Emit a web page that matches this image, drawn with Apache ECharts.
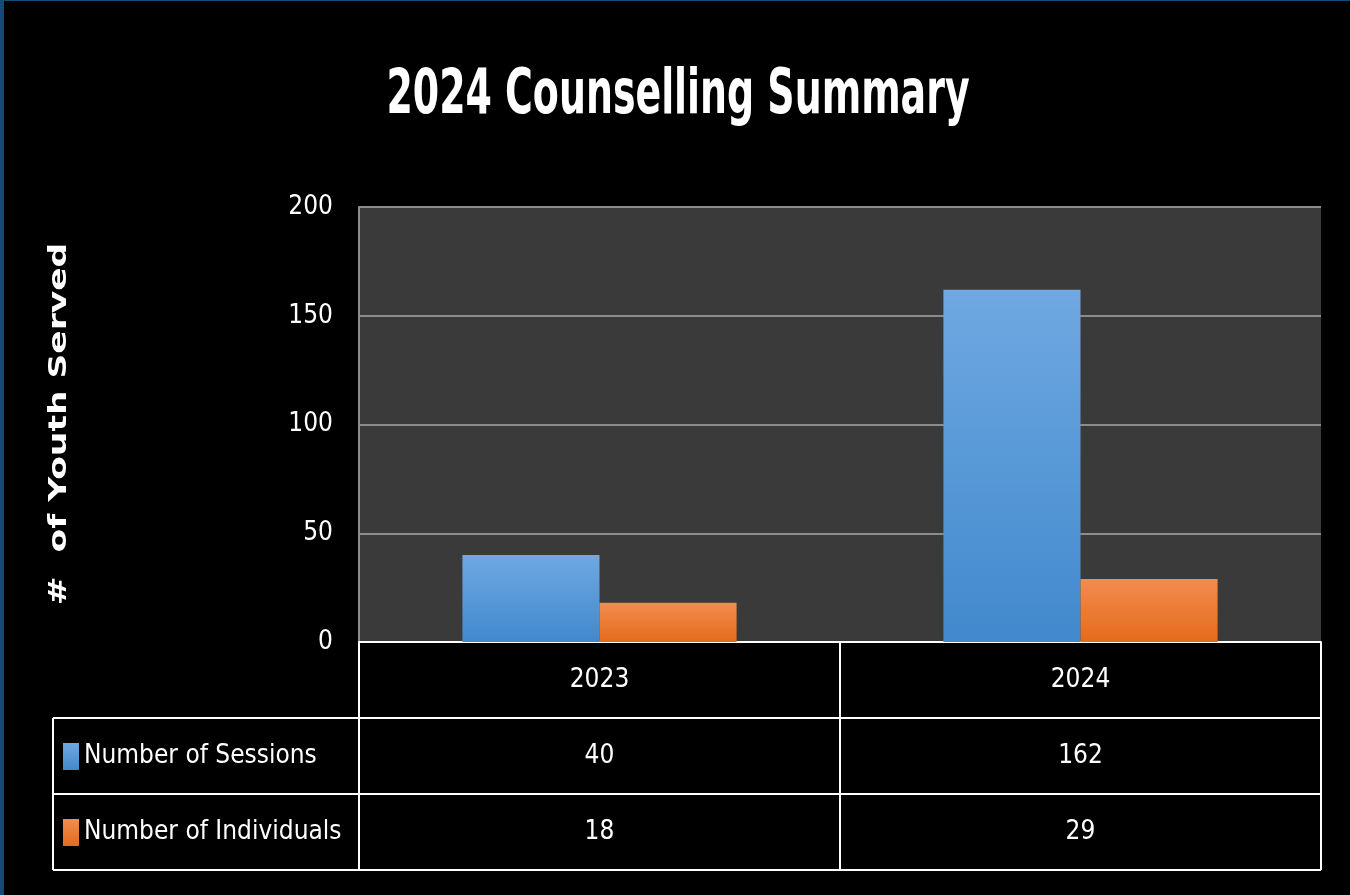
<!DOCTYPE html>
<html>
<head>
<meta charset="utf-8">
<script src="https://cdn.jsdelivr.net/npm/echarts@6/dist/echarts.min.js"></script>
<style>
  html, body { margin: 0; padding: 0; background: #000; }
  #wrap { position: relative; width: 1350px; height: 895px; }
  #main { width: 1350px; height: 895px; }
  #frame { position: absolute; left: 0; top: 0; width: 1346px; height: 894px;
           border-left: 4px solid #144a77; border-top: 1px solid #144a77; pointer-events: none; }
</style>
</head>
<body>
<div id="wrap">
  <div id="main"></div>
  <div id="frame"></div>
</div>
<script>
// data
const years = ['2023', '2024'];
const sessions = [40, 162];
const individuals = [18, 29];
const seriesNames = ['Number of Sessions', 'Number of Individuals'];

const NARROW = "'Liberation Sans Narrow', 'DejaVu Sans Condensed', sans-serif";
const FS = 26;

// layout of the plot + data table
const GRID_LEFT = 359, GRID_RIGHT = 29, GRID_TOP = 207, GRID_BOTTOM = 253;
const ROW_H = 76;
const TABLE_LEFT = 53;
const W = 1350, H = 895;
const plotBottom = H - GRID_BOTTOM;
const plotRight = W - GRID_RIGHT;

function tableLines() {
    let out = [];
    for (let i = 1; i <= 3; i++) {
        let y = plotBottom + ROW_H * i;
        out.push({
            type: 'line',
            shape: {x1: TABLE_LEFT, y1: y, x2: plotRight, y2: y},
            style: {stroke: '#fff', lineWidth: 2}
        });
    }
    out.push({
        type: 'line',
        shape: {x1: TABLE_LEFT, y1: plotBottom + ROW_H, x2: TABLE_LEFT, y2: plotBottom + ROW_H * 3},
        style: {stroke: '#fff', lineWidth: 2}
    });
    return out;
}

let option = {
    backgroundColor: '#000',
    animation: false,
    grid: {
        left: GRID_LEFT,
        right: GRID_RIGHT,
        top: GRID_TOP,
        bottom: GRID_BOTTOM,
        containLabel: false,
        outerBoundsMode: 'none',
        show: true,
        backgroundColor: '#3a3a3a',
        borderWidth: 0
    },
    legend: {
        orient: 'vertical',
        left: 63,
        top: 743,
        padding: 0,
        itemGap: ROW_H - 27,
        itemWidth: 16,
        itemHeight: 27,
        icon: 'rect',
        selectedMode: false,
        data: seriesNames,
        textStyle: {
            color: '#fff',
            fontFamily: NARROW,
            fontSize: FS,
            lineHeight: 27
        }
    },
    graphic: [
        {
            type: 'text',
            x: 678,
            y: 97,
            scaleX: 0.78,
            scaleY: 1.16,
            style: {
                text: '2024 Counselling Summary',
                fill: '#fff',
                font: 'bold 54px ' + NARROW,
                align: 'center',
                verticalAlign: 'middle'
            }
        },
        {
            type: 'text',
            x: 59,
            y: 424,
            rotation: Math.PI / 2,
            scaleX: 1.38,
            style: {
                text: '#  of Youth Served',
                fill: '#fff',
                font: 'bold 25px "DejaVu Sans", sans-serif',
                align: 'center',
                verticalAlign: 'middle'
            }
        }
    ].concat(tableLines()),
    xAxis: {
        type: 'category',
        data: years,
        axisLine: {
            lineStyle: {color: '#fff', width: 2}
        },
        axisTick: {
            show: true,
            length: ROW_H * 3,
            lineStyle: {color: '#fff', width: 2}
        },
        axisLabel: {
            margin: 0,
            interval: 0,
            formatter: function (value, idx) {
                return '{v|' + value + '}\n{v|' + sessions[idx] + '}\n{v|' + individuals[idx] + '}';
            },
            rich: {
                v: {
                    color: '#fff',
                    fontFamily: NARROW,
                    fontSize: FS,
                    lineHeight: ROW_H,
                    align: 'center'
                }
            }
        }
    },
    yAxis: {
        type: 'value',
        min: 0,
        max: 200,
        interval: 50,
        axisLine: {
            show: true,
            lineStyle: {color: '#8c8c8c', width: 2}
        },
        axisTick: {show: false},
        axisLabel: {
            color: '#fff',
            fontFamily: NARROW,
            fontSize: FS,
            margin: 26
        },
        splitLine: {
            lineStyle: {color: '#8c8c8c', width: 2}
        }
    },
    series: [
        {
            name: seriesNames[0],
            type: 'bar',
            barGap: '0%',
            barCategoryGap: '43%',
            itemStyle: {
                color: new echarts.graphic.LinearGradient(0, 0, 0, 1, [
                    {offset: 0, color: '#6fa8e2'},
                    {offset: 1, color: '#4189cc'}
                ])
            },
            data: sessions
        },
        {
            name: seriesNames[1],
            type: 'bar',
            itemStyle: {
                color: new echarts.graphic.LinearGradient(0, 0, 0, 1, [
                    {offset: 0, color: '#f28c4f'},
                    {offset: 1, color: '#e46b1c'}
                ])
            },
            data: individuals
        }
    ]
};

var chart = echarts.init(document.getElementById('main'));
chart.setOption(option);
</script>
</body>
</html>
